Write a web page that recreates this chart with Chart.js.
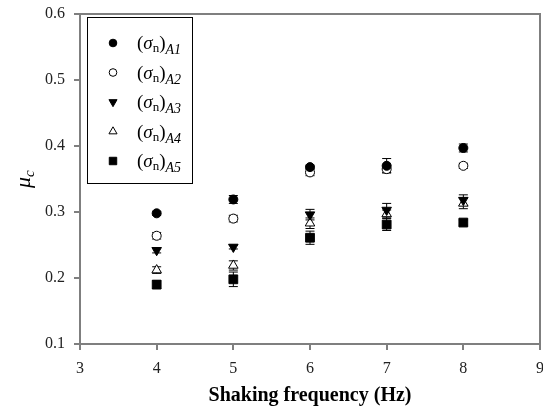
<!DOCTYPE html>
<html>
<head>
<meta charset="utf-8">
<script src="https://cdn.jsdelivr.net/npm/chart.js@4.4.1/dist/chart.umd.min.js"></script>
<style>
  html, body { margin: 0; padding: 0; background: #fff; }
</style>
</head>
<body>
<canvas id="muChart" width="543" height="414"></canvas>
<script>
// --- data ---
const freqs = [4, 5, 6, 7, 8];
const xTicks = [3, 4, 5, 6, 7, 8, 9];
const yTicks = [0.1, 0.2, 0.3, 0.4, 0.5, 0.6];

const muA1 = [0.298, 0.319, 0.368, 0.370, 0.397];
const muA2 = [0.264, 0.290, 0.360, 0.365, 0.370];
const muA3 = [0.242, 0.247, 0.296, 0.303, 0.318];
const muA4 = [0.212, 0.219, 0.283, 0.297, 0.313];
const muA5 = [0.190, 0.198, 0.261, 0.281, 0.284];

const errA1 = [0.003, 0.006, 0.003, 0.011, 0.006];
const errA2 = [0.005, 0.005, 0.005, 0.005, 0.004];
const errA3 = [0.004, 0.003, 0.008, 0.010, 0.008];
const errA4 = [0.005, 0.007, 0.008, 0.006, 0.008];
const errA5 = [0.006, 0.011, 0.010, 0.009, 0.004];

const seriesLabels = ['A1', 'A2', 'A3', 'A4', 'A5'];

const SERIF = '"Liberation Serif", "Times New Roman", serif';
const AXIS_GRAY = '#7f7f7f';

// --- marker styles per series ---
const markers = [
    { pointStyle: 'circle',   radius: 4.5, fill: '#000', rotation: 0 },
    { pointStyle: 'circle',   radius: 4.5, fill: '#fff', rotation: 0 },
    { pointStyle: 'triangle', radius: 5.5, fill: '#000', rotation: 180 },
    { pointStyle: 'triangle', radius: 5.5, fill: '#fff', rotation: 0 },
    { pointStyle: 'rect',     radius: 6.2, fill: '#000', rotation: 0 }
];

function makeSet(label, values, errs, m) {
    return {
        label: label,
        data: freqs.map((f, i) => ({ x: f, y: values[i] })),
        errors: errs,
        pointStyle: m.pointStyle,
        pointRadius: m.radius,
        pointHoverRadius: m.radius,
        pointRotation: m.rotation,
        backgroundColor: m.fill,
        borderColor: '#000',
        borderWidth: 1,
        showLine: false
    };
}

const datasets = [
    makeSet('A1', muA1, errA1, markers[0]),
    makeSet('A2', muA2, errA2, markers[1]),
    makeSet('A3', muA3, errA3, markers[2]),
    makeSet('A4', muA4, errA4, markers[3]),
    makeSet('A5', muA5, errA5, markers[4])
];

// --- error bars, drawn under the markers ---
const errorBars = {
    id: 'errorBars',
    beforeDatasetsDraw(chart) {
        const ctx = chart.ctx;
        const xs = chart.scales.x, ys = chart.scales.y;
        ctx.save();
        ctx.strokeStyle = '#000';
        ctx.lineWidth = 1;
        chart.data.datasets.forEach(ds => {
            ds.data.forEach((p, i) => {
                const e = ds.errors[i];
                const px = xs.getPixelForValue(p.x);
                const top = ys.getPixelForValue(p.y + e);
                const bot = ys.getPixelForValue(p.y - e);
                ctx.beginPath();
                ctx.moveTo(px, top); ctx.lineTo(px, bot);
                ctx.moveTo(px - 4.5, top); ctx.lineTo(px + 4.5, top);
                ctx.moveTo(px - 4.5, bot); ctx.lineTo(px + 4.5, bot);
                ctx.stroke();
            });
        });
        ctx.restore();
    }
};

// --- frame box, y title and legend with subscripts ---
const decorations = {
    id: 'decorations',
    afterDraw(chart) {
        const ctx = chart.ctx;
        const a = chart.chartArea;
        ctx.save();

        // top and right border of the plot frame
        ctx.strokeStyle = AXIS_GRAY;
        ctx.lineWidth = 2;
        ctx.beginPath();
        ctx.moveTo(a.left, a.top);
        ctx.lineTo(a.right, a.top);
        ctx.lineTo(a.right, a.bottom);
        ctx.stroke();

        // y axis title: mu with subscript c, rotated
        ctx.translate(30, 178);
        ctx.rotate(-Math.PI / 2);
        ctx.fillStyle = '#000';
        ctx.textBaseline = 'alphabetic';
        ctx.textAlign = 'left';
        ctx.font = 'italic 22px ' + SERIF;
        const muW = ctx.measureText('μ').width;
        ctx.fillText('μ', -10, 0);
        ctx.font = 'italic 15px ' + SERIF;
        ctx.fillText('c', -10 + muW, 4);
        ctx.setTransform(1, 0, 0, 1, 0, 0);

        // legend box
        const box = { x: 87.5, y: 17.5, w: 105, h: 166 };
        ctx.strokeStyle = '#000';
        ctx.lineWidth = 1;
        ctx.strokeRect(box.x, box.y, box.w, box.h);

        const rowY = [43, 72.5, 102, 131.5, 161];
        chart.data.datasets.forEach((ds, i) => {
            const y = rowY[i];
            const m = markers[i];
            ctx.fillStyle = m.fill;
            ctx.strokeStyle = '#000';
            ctx.lineWidth = 1;
            Chart.helpers.drawPoint(ctx, {
                pointStyle: m.pointStyle,
                radius: m.radius * 0.85,
                rotation: m.rotation,
                borderWidth: 1
            }, 113, y);

            // (σ_n)_{A#}
            let x = 137;
            const base = y + 6;
            ctx.fillStyle = '#000';
            ctx.font = '19px ' + SERIF;
            ctx.fillText('(', x, base); x += ctx.measureText('(').width;
            ctx.font = 'italic 19px ' + SERIF;
            ctx.fillText('σ', x, base); x += ctx.measureText('σ').width;
            ctx.font = '13px ' + SERIF;
            ctx.fillText('n', x, base + 3); x += ctx.measureText('n').width;
            ctx.font = '19px ' + SERIF;
            ctx.fillText(')', x, base); x += ctx.measureText(')').width;
            ctx.font = 'italic 14px ' + SERIF;
            ctx.fillText(seriesLabels[i], x, base + 5);
        });
        ctx.restore();
    }
};

new Chart(document.getElementById('muChart').getContext('2d'), {
    type: 'scatter',
    data: { datasets: datasets },
    plugins: [errorBars, decorations],
    options: {
        responsive: false,
        animation: false,
        layout: { autoPadding: false, padding: { left: 0, right: 3, top: 14, bottom: 6 } },
        plugins: {
            legend: { display: false },
            tooltip: { enabled: false }
        },
        scales: {
            x: {
                type: 'linear',
                min: xTicks[0],
                max: xTicks[xTicks.length - 1],
                afterBuildTicks: s => { s.ticks = xTicks.map(v => ({ value: v })); },
                afterFit: s => { s.height = 64; s.paddingRight = 0; s.paddingLeft = 0; },
                ticks: {
                    color: '#222',
                    padding: 9,
                    font: { family: SERIF, size: 16 },
                    callback: v => String(v)
                },
                grid: { drawOnChartArea: false, drawTicks: true, tickLength: 6, color: AXIS_GRAY, lineWidth: 2 },
                border: { color: AXIS_GRAY, width: 2 },
                title: {
                    display: true,
                    text: 'Shaking frequency (Hz)',
                    color: '#000',
                    padding: { top: 0, bottom: 0 },
                    font: { family: SERIF, size: 20, weight: 'bold' }
                }
            },
            y: {
                type: 'linear',
                min: yTicks[0],
                max: yTicks[yTicks.length - 1],
                afterBuildTicks: s => { s.ticks = yTicks.map(v => ({ value: v })); },
                afterFit: s => { s.width = 80; s.paddingTop = 0; s.paddingBottom = 0; },
                ticks: {
                    color: '#222',
                    padding: 9,
                    font: { family: SERIF, size: 16 },
                    callback: v => Number(v).toFixed(1)
                },
                grid: { drawOnChartArea: false, drawTicks: true, tickLength: 6, color: AXIS_GRAY, lineWidth: 2 },
                border: { color: AXIS_GRAY, width: 2 }
            }
        }
    }
});
</script>
</body>
</html>
